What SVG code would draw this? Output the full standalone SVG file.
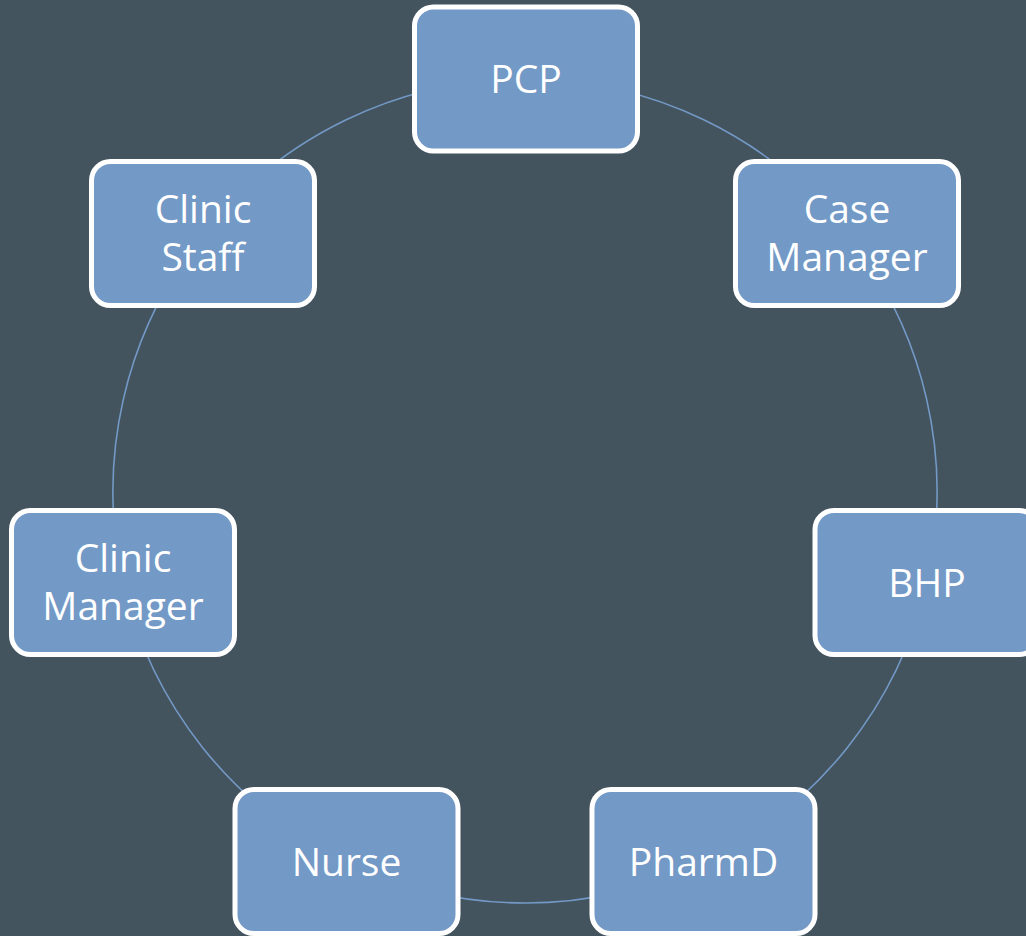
<svg xmlns="http://www.w3.org/2000/svg" width="1026" height="936" viewBox="0 0 1026 936">
  <style>
    .box { fill: #7399C6; stroke: #FFFFFF; stroke-width: 5; }
    .lbl { fill: #FFFFFF; font-family: "Open Sans", "Noto Sans", "Liberation Sans", sans-serif; font-size: 39px; text-anchor: middle; }
    .arc { fill: none; stroke: #7399C6; stroke-width: 1.6; }
  </style>
  <rect x="0" y="0" width="1026" height="936" fill="#44545F"/>
  <g id="connectors">
    <path class="arc" d="M 525 79 A 412 412 0 0 1 847.11 234.12"/>
    <path class="arc" d="M 847.11 234.12 A 412 412 0 0 1 926.67 582.68"/>
    <path class="arc" d="M 926.67 582.68 A 412 412 0 0 1 703.76 862.2"/>
    <path class="arc" d="M 703.76 862.2 A 412 412 0 0 1 346.24 862.2"/>
    <path class="arc" d="M 346.24 862.2 A 412 412 0 0 1 123.33 582.68"/>
    <path class="arc" d="M 123.33 582.68 A 412 412 0 0 1 202.89 234.12"/>
    <path class="arc" d="M 202.89 234.12 A 412 412 0 0 1 525 79"/>
  </g>
  <g id="node-pcp">
    <rect class="box" x="414.5" y="7" width="223" height="144" rx="19"/>
    <text class="lbl" x="526" y="93">PCP</text>
  </g>
  <g id="node-case-manager">
    <rect class="box" x="735.5" y="161.5" width="223" height="144" rx="19"/>
    <text class="lbl" x="847" y="222.5">Case</text>
    <text class="lbl" x="847" y="270.5">Manager</text>
  </g>
  <g id="node-bhp">
    <rect class="box" x="815" y="510.5" width="223" height="144" rx="19"/>
    <text class="lbl" x="927" y="596.5">BHP</text>
  </g>
  <g id="node-pharmd">
    <rect class="box" x="592" y="789.5" width="223" height="144" rx="19"/>
    <text class="lbl" x="703.5" y="875.5">PharmD</text>
  </g>
  <g id="node-nurse">
    <rect class="box" x="235" y="789.5" width="223" height="144" rx="19"/>
    <text class="lbl" x="346.5" y="875.5">Nurse</text>
  </g>
  <g id="node-clinic-manager">
    <rect class="box" x="11.5" y="510.5" width="223" height="144" rx="19"/>
    <text class="lbl" x="123" y="571.5">Clinic</text>
    <text class="lbl" x="123" y="619.5">Manager</text>
  </g>
  <g id="node-clinic-staff">
    <rect class="box" x="91.5" y="161.5" width="223" height="144" rx="19"/>
    <text class="lbl" x="203" y="222.5">Clinic</text>
    <text class="lbl" x="203" y="270.5">Staff</text>
  </g>
</svg>
